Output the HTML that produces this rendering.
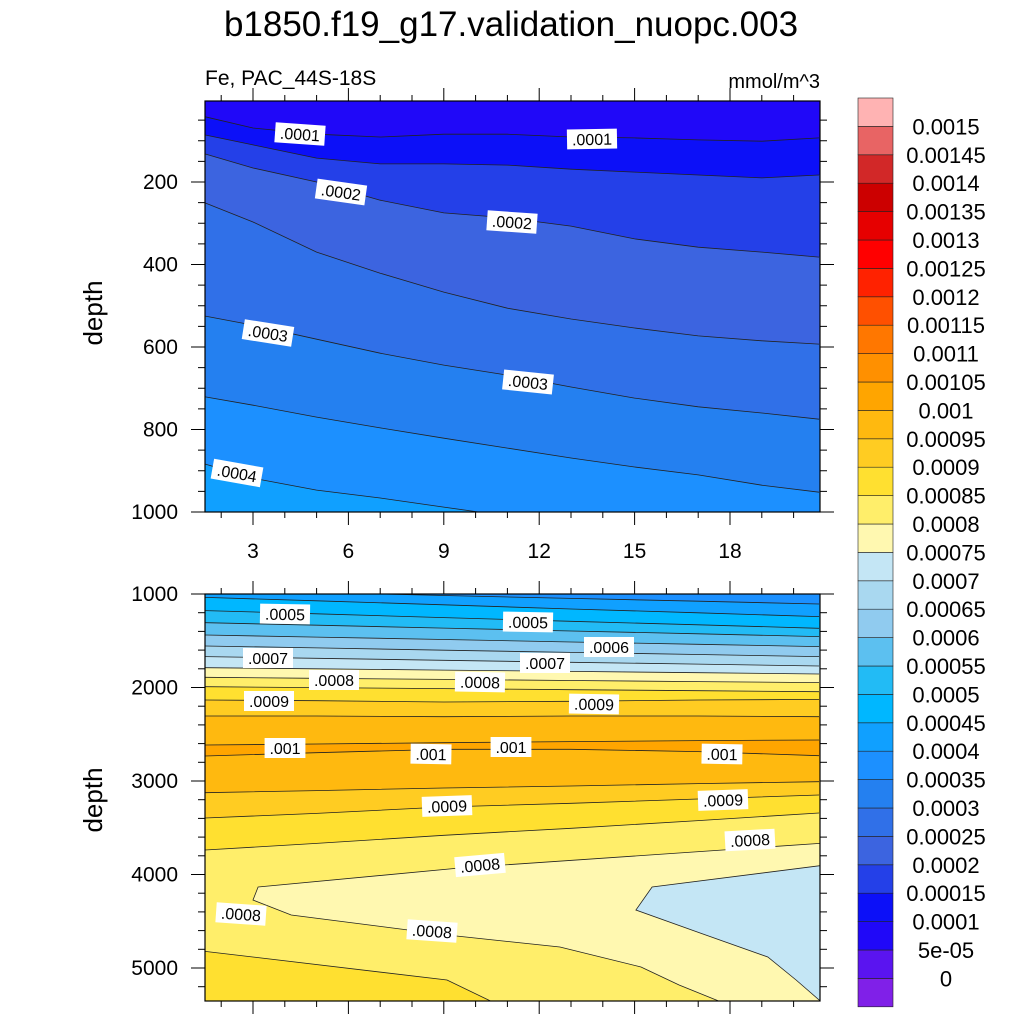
<!DOCTYPE html>
<html><head><meta charset="utf-8">
<style>
html,body{margin:0;padding:0;background:#fff;width:1024px;height:1024px;overflow:hidden;}
svg{display:block;font-family:"Liberation Sans",sans-serif;}
</style></head>
<body>
<svg id="chart" width="1024" height="1024" viewBox="0 0 1024 1024" xmlns="http://www.w3.org/2000/svg">
<defs>
<clipPath id="clipTop"><rect x="205" y="101" width="615" height="411"/></clipPath>
<clipPath id="clipBot"><rect x="205" y="594" width="615" height="407"/></clipPath>
</defs>
<text x="511" y="36" font-size="35" text-anchor="middle">b1850.f19_g17.validation_nuopc.003</text>
<text x="205" y="85" font-size="21">Fe, PAC_44S-18S</text>
<text x="820" y="88" font-size="20" text-anchor="end">mmol/m^3</text>
<text transform="translate(102,313) rotate(-90)" font-size="26" text-anchor="middle">depth</text>
<text transform="translate(102,800) rotate(-90)" font-size="26" text-anchor="middle">depth</text>
<g id="topPanel"></g>
<g id="botPanel"></g>
<g id="axes"></g>
<g id="cbar"></g>
</svg>
<script>
// ---- data ----
const levelLabels = ["0","5e-05","0.0001","0.00015","0.0002","0.00025","0.0003","0.00035","0.0004","0.00045","0.0005","0.00055","0.0006","0.00065","0.0007","0.00075","0.0008","0.00085","0.0009","0.00095","0.001","0.00105","0.0011","0.00115","0.0012","0.00125","0.0013","0.00135","0.0014","0.00145","0.0015"];
const bandColors = ["#8020e8","#5a14f0","#2008f8","#0c10f8","#2440e8","#3c64e0","#3070e8","#2480f0","#1c90ff","#10a0ff","#00b7ff","#22bbf5","#5cc0f0","#90cbef","#a9d8f0","#c4e6f5","#fff8b0","#ffee6a","#ffe030","#ffcc22","#ffb90f","#ffa500","#ff9000","#ff7700","#ff5000","#ff2200","#ff0000","#e60000","#cc0000","#d22828","#e86464","#ffb3b3"];

const topMonths = [1.5,3,5,7,9,11,13,15,17,19,20.8];
const topTopBand = 2;
const topLineBands = [3,4,5,6,7,8,9];
const topD_0001  = [42,69,84,91,84,84,91,93,98,101,93];
const topD_00015 = [86,110,142,156,156,159,169,176,183,190,183];
const topD_0002  = [132,166,200,244,275,287,307,338,358,370,382];
const topD_00025 = [251,297,370,421,467,506,532,554,573,585,593];
const topD_0003  = [525,547,581,615,644,668,697,724,745,760,775];
const topD_00035 = [721,741,770,796,821,845,869,891,910,935,952];
const topD_0004  = [884,918,947,966,988,1010,1030,1050,1070,1090,1110];
const topLines = [topD_0001,topD_00015,topD_0002,topD_00025,topD_0003,topD_00035,topD_0004];

const botMonths = [1.5,5,9,13,17,20.8];
const botTopBand = 8;
const botLineBands = [9,10,11,12,13,14,15,16,17,18,19,20,21,20,19,18,17];
const botD_0004  = [957,984,1016,1047,1077,1107];
const botD_00045 = [1036,1073,1116,1160,1201,1242];
const botD_0005  = [1178,1212,1252,1292,1329,1367];
const botD_00055 = [1307,1334,1365,1396,1426,1456];
const botD_0006  = [1438,1461,1487,1513,1538,1563];
const botD_00065 = [1556,1577,1601,1625,1647,1670];
const botD_0007  = [1670,1688,1709,1730,1750,1770];
const botD_00075 = [1788,1800,1814,1828,1842,1856];
const botD_0008  = [1891,1902,1913,1925,1937,1948];
const botD_00085 = [1991,2001,2012,2023,2034,2045];
const botD_0009  = [2134,2141,2155,2148,2134,2127];
const botD_00095 = [2305,2305,2312,2305,2305,2312];
const botD_001a  = [2615,2604,2590,2579,2568,2561];
const botD_001b  = [2733,2697,2661,2661,2686,2729];
const botD_00095b= [3125,3103,3075,3053,3028,3007];
const botD_0009b = [3396,3346,3278,3239,3193,3150];
const botD_00085b= [3738,3667,3581,3506,3424,3342];
const botLines = [botD_0004,botD_00045,botD_0005,botD_00055,botD_0006,botD_00065,botD_0007,botD_00075,botD_0008,botD_00085,botD_0009,botD_00095,botD_001a,botD_001b,botD_00095b,botD_0009b,botD_00085b];

const deepLeftRegion = [[1.4,4818],[9.1,5128],[10.6,5374],[10.6,5500],[1.4,5500]];
const lensRegion = [[3.16,4134],[9.5,3930],[21,3663],[21,5500],[17.8,5500],[17.8,5374],[16.4,5182],[15.2,4989],[12.65,4775],[9.1,4647],[4.2,4433],[3.0,4273]];
const blueRegion = [[21,3898],[15.55,4134],[15.04,4380],[17.06,4626],[19.19,4882],[20.08,5128],[21,5400]];

const topLabelText = [".0001",".0001",".0002",".0002",".0003",".0003",".0004"];
const topLabelPos = [[300,134,4],[592,139,-1],[341,192,8],[512,222,4],[268,333,9],[528,382,6],[237,473,10]];
const botLabelText = [".0005",".0005",".0006",".0007",".0007",".0008",".0008",".0009",".0009",".001",".001",".001",".001",".0009",".0009",".0008",".0008",".0008",".0008"];
const botLabelPos = [[285,614,1],[528,622,1],[609,647,0],[268,658,0],[545,663,0],[334,680,0],[480,682,1],[269,701,0],[594,704,1],[285,748,0],[431,754,1],[511,747,0],[722,754,1],[447,806,-2],[723,800,-2],[480,865,-5],[750,840,-3],[241,914,4],[432,931,4]];

const topDepthTicks = [200,400,600,800,1000];
const botDepthTicks = [1000,2000,3000,4000,5000];
const monthTicks = [3,6,9,12,15,18];

// ---- scales ----
const X = m => 253 + (m-3)*31.8;
const YT = d => 512 - (1000-d)*0.4125;
const YB = d => 594 + (d-1000)*0.0935;
const NS = "http://www.w3.org/2000/svg";
function mk(tag, attrs, parent){const e=document.createElementNS(NS,tag);for(const k in attrs)e.setAttribute(k,attrs[k]);parent.appendChild(e);return e;}

function drawPanel(g, clip, months, lines, bands, topBand, Y, yBottomDepth, name){
  const cg = mk('g',{'clip-path':'url(#'+clip+')'},g);
  const bg = mk('rect',{x:200,y:(name==='top'?95:585),width:630,height:420,fill:bandColors[topBand]},cg);
  
  
  lines.forEach((arr,i)=>{
    let pts = arr.map((d,j)=>X(months[j]).toFixed(1)+','+Y(d).toFixed(1));
    const p = mk('polygon',{points: pts.join(' ')+' '+X(21)+','+Y(arr[arr.length-1])+' '+X(21)+','+Y(yBottomDepth)+' '+X(1.3)+','+Y(yBottomDepth)+' '+X(1.3)+','+Y(arr[0]), fill:bandColors[bands[i]]},cg);
    
    
  });
  lines.forEach((arr,i)=>{
    const l = mk('polyline',{points: arr.map((d,j)=>X(months[j]).toFixed(1)+','+Y(d).toFixed(1)).join(' '), fill:'none', stroke:'#222', 'stroke-width':0.8},cg);
    
    
  });
  return cg;
}
const tg = document.getElementById('topPanel');
drawPanel(tg,'clipTop',topMonths,topLines,topLineBands,topTopBand,YT,1200,'top');
const bgp = document.getElementById('botPanel');
const bcg = drawPanel(bgp,'clipBot',botMonths,botLines,botLineBands,botTopBand,YB,5500,'bottom');
function region(arr,color,nm){
  const p = mk('polygon',{points: arr.map(q=>X(q[0]).toFixed(1)+','+YB(q[1]).toFixed(1)).join(' '), fill:color, stroke:'#222','stroke-width':0.8},bcg);
  
  
}
region(deepLeftRegion,bandColors[18],'deep-left-region');
region(lensRegion,bandColors[16],'lens-region');
region(blueRegion,bandColors[15],'deep-right-region');

function labels(g,texts,pos,nm){
  texts.forEach((t,i)=>{
    const [x,y,r]=pos[i];
    const lg = mk('g',{transform:`translate(${x},${y}) rotate(${r})`},g);
    
    
    const w = t.length*9.2+4;
    mk('rect',{x:-w/2,y:-10,width:w,height:20,fill:'#fff'},lg);
    mk('text',{x:0,y:6,'font-size':16,'text-anchor':'middle'},lg).textContent=t;
  });
}
labels(tg,topLabelText,topLabelPos,'top');
labels(bgp,botLabelText,botLabelPos,'bottom');

// ---- axes ----
const ax = document.getElementById('axes');
function frame(y0,y1){
  const r = mk('rect',{x:205,y:y0,width:615,height:y1-y0,fill:'none',stroke:'#000','stroke-width':1.2},ax);
  
  
  for(let m=2;m<=20;m++){
    const maj = m%3===0, len = maj?13:6;
    mk('line',{x1:X(m),x2:X(m),y1:y0,y2:y0-len,stroke:'#000','stroke-width':1},ax);
    mk('line',{x1:X(m),x2:X(m),y1:y1,y2:y1+len,stroke:'#000','stroke-width':1},ax);
  }
}
frame(101,512); frame(594,1001);
for(let d=50; d<=1000; d+=50){
  const maj = d%200===0, len = maj?14:7;
  mk('line',{x1:205,x2:205-len,y1:YT(d),y2:YT(d),stroke:'#000','stroke-width':1},ax);
  mk('line',{x1:820,x2:820+len,y1:YT(d),y2:YT(d),stroke:'#000','stroke-width':1},ax);
}
for(let d=1000; d<=5300; d+=200){
  const maj = d%1000===0, len = maj?14:7;
  mk('line',{x1:205,x2:205-len,y1:YB(d),y2:YB(d),stroke:'#000','stroke-width':1},ax);
  mk('line',{x1:820,x2:820+len,y1:YB(d),y2:YB(d),stroke:'#000','stroke-width':1},ax);
}
topDepthTicks.forEach(d=>{
  const t=mk('text',{x:178,y:YT(d)+7,'font-size':21,'text-anchor':'end'},ax);t.textContent=d;
  
  
});
botDepthTicks.forEach(d=>{
  const t=mk('text',{x:178,y:YB(d)+7,'font-size':21,'text-anchor':'end'},ax);t.textContent=d;
  
  
});
monthTicks.forEach(m=>{
  const t=mk('text',{x:X(m),y:558,'font-size':21,'text-anchor':'middle'},ax);t.textContent=m;
  
  
});

// ---- colorbar ----
const cb = document.getElementById('cbar');
const cbTop=98, cbH=28.4, n=bandColors.length;
bandColors.forEach((c,i)=>{
  const k = n-1-i;
  const r = mk('rect',{x:858,y:cbTop+k*cbH,width:35,height:cbH,fill:c,stroke:'#222','stroke-width':0.6},cb);
  
  
});
levelLabels.forEach((t,i)=>{
  const y = cbTop+(n-1-i)*cbH;
  const tx = mk('text',{x:946,y:y+8,'font-size':22,'text-anchor':'middle'},cb);
  tx.textContent=t;
  
  
});
</script>
</body></html>
